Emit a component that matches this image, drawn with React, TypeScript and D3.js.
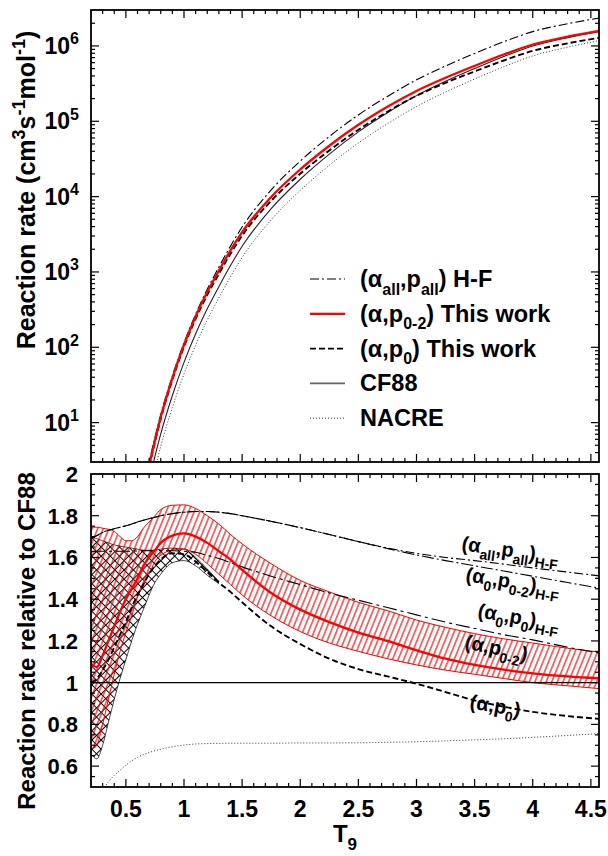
import React from 'react';
import * as d3 from 'd3';

// ---------- data ----------
const T9 = [0.2, 0.25, 0.3, 0.35, 0.4, 0.45, 0.5, 0.55, 0.6, 0.65, 0.7, 0.75, 0.8, 0.9, 1.0, 1.1, 1.2, 1.3, 1.4, 1.5, 1.75, 2.0, 2.25, 2.5, 2.75, 3.0, 3.25, 3.5, 3.75, 4.0, 4.3, 4.6];

// CF88 reaction rate (cm^3 s^-1 mol^-1)
const cf88Rate: (number | null)[] = [null, null, null, null, null, null, null, null, 0.28, 0.71, 1.66, 3.55, 7.1, 22.9, 63, 151, 324, 638, 1216, 2190, 6920, 17000, 36700, 72400, 130000, 219000, 339000, 501000, 724000, 1.0e6, 1.29e6, 1.58e6];

// ratios relative to CF88
const p02Ratio = [1.09, 1.075, 1.13, 1.2, 1.27, 1.34, 1.4, 1.45, 1.5, 1.56, 1.6, 1.635, 1.67, 1.705, 1.715, 1.7, 1.67, 1.63, 1.59, 1.54, 1.43, 1.35, 1.29, 1.24, 1.2, 1.155, 1.115, 1.085, 1.062, 1.045, 1.03, 1.02];
const p02Upper = [1.745, 1.745, 1.74, 1.735, 1.725, 1.7, 1.68, 1.68, 1.7, 1.74, 1.77, 1.8, 1.83, 1.85, 1.852, 1.835, 1.8, 1.76, 1.71, 1.665, 1.57, 1.49, 1.435, 1.385, 1.345, 1.3, 1.265, 1.235, 1.21, 1.19, 1.165, 1.145];
const p02Lower = [0.68, 0.7, 0.8, 0.92, 1.04, 1.15, 1.24, 1.32, 1.41, 1.47, 1.52, 1.58, 1.61, 1.635, 1.64, 1.615, 1.57, 1.52, 1.47, 1.42, 1.32, 1.245, 1.19, 1.15, 1.115, 1.085, 1.06, 1.04, 1.02, 1.0, 0.985, 0.97];

const p0Ratio = [1.0, 1.02, 1.06, 1.11, 1.17, 1.23, 1.29, 1.36, 1.42, 1.47, 1.52, 1.56, 1.59, 1.62, 1.615, 1.58, 1.53, 1.48, 1.435, 1.385, 1.27, 1.185, 1.115, 1.065, 1.03, 0.995, 0.955, 0.915, 0.885, 0.86, 0.84, 0.825];
const p0Upper: (number | null)[] = [1.7, 1.69, 1.68, 1.67, 1.66, 1.655, 1.65, 1.645, 1.64, 1.635, 1.635, 1.635, 1.64, 1.645, 1.64, 1.6, 1.545, 1.486, null, null, null, null, null, null, null, null, null, null, null, null, null, null];
const p0Lower: (number | null)[] = [0.66, 0.635, 0.7, 0.81, 0.92, 1.02, 1.11, 1.2, 1.28, 1.35, 1.42, 1.48, 1.52, 1.575, 1.585, 1.56, 1.515, 1.474, null, null, null, null, null, null, null, null, null, null, null, null, null, null];

const hfAllRatio = [1.69, 1.705, 1.72, 1.73, 1.738, 1.745, 1.752, 1.76, 1.77, 1.778, 1.786, 1.793, 1.8, 1.81, 1.817, 1.82, 1.82, 1.817, 1.81, 1.8, 1.773, 1.743, 1.71, 1.676, 1.645, 1.62, 1.6, 1.585, 1.568, 1.55, 1.53, 1.51];
const hf0p02Ratio = [1.69, 1.705, 1.72, 1.73, 1.738, 1.745, 1.752, 1.76, 1.77, 1.778, 1.786, 1.793, 1.8, 1.81, 1.817, 1.82, 1.82, 1.817, 1.81, 1.8, 1.773, 1.743, 1.71, 1.676, 1.643, 1.612, 1.585, 1.56, 1.535, 1.51, 1.48, 1.45];
const hf0p0Ratio = [1.628, 1.63, 1.63, 1.63, 1.63, 1.63, 1.63, 1.63, 1.631, 1.632, 1.632, 1.632, 1.632, 1.632, 1.63, 1.625, 1.61, 1.595, 1.575, 1.555, 1.51, 1.47, 1.43, 1.395, 1.36, 1.325, 1.29, 1.26, 1.23, 1.205, 1.17, 1.14];
const nacreRatio: (number | null)[] = [null, null, 0.485, 0.525, 0.555, 0.58, 0.605, 0.625, 0.642, 0.655, 0.665, 0.674, 0.681, 0.693, 0.701, 0.706, 0.708, 0.709, 0.71, 0.71, 0.71, 0.711, 0.711, 0.712, 0.714, 0.717, 0.721, 0.726, 0.731, 0.738, 0.747, 0.757];
const cf88Ratio = T9.map(() => 1);

const xTickLabels = ['0.5', '1', '1.5', '2', '2.5', '3', '3.5', '4', '4.5'];
const yTopDecades = [1, 2, 3, 4, 5, 6];
const yBotLabels = ['0.6', '0.8', '1', '1.2', '1.4', '1.6', '1.8', '2'];

// ---------- helpers ----------
type Seg = { t: string; sub?: boolean; sup?: boolean };

function Rich({ segs, size, small, ...rest }: any) {
  let prev = 0;
  return (
    <text {...rest} fontSize={size}>
      {(segs as Seg[]).map((s, i) => {
        const off = s.sub ? size * 0.32 : s.sup ? -size * 0.42 : 0;
        const dy = off - prev;
        prev = off;
        return (
          <tspan key={i} dy={dy} fontSize={s.sub || s.sup ? small : size}>
            {s.t}
          </tspan>
        );
      })}
    </text>
  );
}

const FONT = "'Liberation Sans', Arial, Helvetica, sans-serif";

export default function App() {
  const W = 608, H = 856;
  const L = 91, R = 599;
  const topT = 10, topB = 462, botT = 474, botB = 787;

  const x = d3.scaleLinear().domain([0.2, 4.57]).range([L, R]);
  const yTop = d3.scaleLog().domain([3, 3e6]).range([topB, topT]);
  const yBot = d3.scaleLinear().domain([0.5, 2]).range([botB, botT]);

  type P = [number, number | null];
  const lineTop = d3.line<P>()
    .defined((d) => d[1] != null && (d[1] as number) > 0)
    .x((d) => x(d[0]))
    .y((d) => yTop(d[1] as number))
    .curve(d3.curveMonotoneX);
  const lineBot = d3.line<P>()
    .defined((d) => d[1] != null)
    .x((d) => x(d[0]))
    .y((d) => yBot(d[1] as number))
    .curve(d3.curveMonotoneX);
  type B = [number, number | null, number | null];
  const areaBot = d3.area<B>()
    .defined((d) => d[1] != null && d[2] != null)
    .x((d) => x(d[0]))
    .y0((d) => yBot(d[1] as number))
    .y1((d) => yBot(d[2] as number))
    .curve(d3.curveMonotoneX);

  const ratioPts = (r: (number | null)[]): P[] => T9.map((t, i) => [t, r[i]]);
  const ratePts = (r: (number | null)[]): P[] =>
    T9.map((t, i) => [t, cf88Rate[i] == null || r[i] == null ? null : (cf88Rate[i] as number) * (r[i] as number)]);
  const band = (lo: (number | null)[], hi: (number | null)[]): B[] => T9.map((t, i) => [t, lo[i], hi[i]]);

  const styles = {
    hfAll: { stroke: '#000', strokeWidth: 1.1, strokeDasharray: '9,3,2,3' },
    hf0p02: { stroke: '#000', strokeWidth: 1.1, strokeDasharray: '12,3,2,3' },
    hf0p0: { stroke: '#000', strokeWidth: 1.1, strokeDasharray: '14,4,3,4' },
    red: { stroke: '#ff0000', strokeWidth: 2.3 },
    p0: { stroke: '#000', strokeWidth: 1.9, strokeDasharray: '6,3' },
    cf88: { stroke: '#222', strokeWidth: 1.1 },
    nacre: { stroke: '#333', strokeWidth: 1, strokeDasharray: '1,2' },
  };

  // ticks
  const xMinor = d3.range(3, 46).map((i) => i / 10);
  const topMinor: { v: number; major: boolean }[] = [];
  for (let d = 0; d <= 6; d++) {
    for (let k = 1; k <= 9; k++) {
      const v = k * Math.pow(10, d);
      if (v > 3 && v < 3e6) topMinor.push({ v, major: k === 1 });
    }
  }
  const botTicks = d3.range(11, 40).map((i) => ({ v: i * 0.05, major: i % 4 === 0 }));

  const tickLines: JSX.Element[] = [];
  xMinor.forEach((t, i) => {
    const major = Math.round(t * 10) % 5 === 0;
    const len = major ? 8 : 4;
    const xx = x(t);
    [[topT, 1], [topB, -1], [botT, 1], [botB, -1]].forEach(([y0, s], j) => {
      tickLines.push(<line key={`xt${i}-${j}`} x1={xx} x2={xx} y1={y0} y2={y0 + s * len} stroke="#000" strokeWidth={1.2} />);
    });
  });
  topMinor.forEach((tk, i) => {
    const yy = yTop(tk.v);
    const len = tk.major ? 8 : 4;
    tickLines.push(<line key={`yt${i}a`} x1={L} x2={L + len} y1={yy} y2={yy} stroke="#000" strokeWidth={1.2} />);
    tickLines.push(<line key={`yt${i}b`} x1={R} x2={R - len} y1={yy} y2={yy} stroke="#000" strokeWidth={1.2} />);
  });
  botTicks.forEach((tk, i) => {
    const yy = yBot(tk.v);
    const len = tk.major ? 8 : 4;
    tickLines.push(<line key={`yb${i}a`} x1={L} x2={L + len} y1={yy} y2={yy} stroke="#000" strokeWidth={1.2} />);
    tickLines.push(<line key={`yb${i}b`} x1={R} x2={R - len} y1={yy} y2={yy} stroke="#000" strokeWidth={1.2} />);
  });

  const legend = [
    { segs: [{ t: '(α' }, { t: 'all', sub: true }, { t: ',p' }, { t: 'all', sub: true }, { t: ') H-F' }], st: styles.hfAll },
    { segs: [{ t: '(α,p' }, { t: '0-2', sub: true }, { t: ') This work' }], st: styles.red },
    { segs: [{ t: '(α,p' }, { t: '0', sub: true }, { t: ') This work' }], st: styles.p0 },
    { segs: [{ t: 'CF88' }], st: { ...styles.cf88, stroke: '#666', strokeWidth: 1.6 } },
    { segs: [{ t: 'NACRE' }], st: styles.nacre },
  ];

  const annots = [
    { segs: [{ t: '(α' }, { t: 'all', sub: true }, { t: ',p' }, { t: 'all', sub: true }, { t: ')' }, { t: 'H-F', sub: true }], x: 461, y: 550, a: 8 },
    { segs: [{ t: '(α' }, { t: '0', sub: true }, { t: ',p' }, { t: '0-2', sub: true }, { t: ')' }, { t: 'H-F', sub: true }], x: 465, y: 581, a: 9 },
    { segs: [{ t: '(α' }, { t: '0', sub: true }, { t: ',p' }, { t: '0', sub: true }, { t: ')' }, { t: 'H-F', sub: true }], x: 477, y: 617, a: 10 },
    { segs: [{ t: '(α,p' }, { t: '0-2', sub: true }, { t: ')' }], x: 464, y: 648, a: 12 },
    { segs: [{ t: '(α,p' }, { t: '0', sub: true }, { t: ')' }], x: 469, y: 708, a: 10 },
  ];

  return (
    <svg width={W} height={H} style={{ position: 'absolute', left: 0, top: 0, background: '#fff' }} fontFamily={FONT} fontWeight="bold">
      <defs>
        <clipPath id="clipTop"><rect x={L} y={topT} width={R - L} height={topB - topT} /></clipPath>
        <clipPath id="clipBot"><rect x={L} y={botT} width={R - L} height={botB - botT} /></clipPath>
        <pattern id="hatchRed" patternUnits="userSpaceOnUse" width={5.2} height={20} patternTransform="rotate(22)">
          <line x1={2.6} y1={-2} x2={2.6} y2={22} stroke="#ff0000" strokeWidth={1.1} />
        </pattern>
        <pattern id="hatchBlack" patternUnits="userSpaceOnUse" width={6.5} height={6.5} patternTransform="rotate(45)">
          <path d="M3.25,-1V7.5M-1,3.25H7.5" stroke="#000" strokeWidth={1.05} />
        </pattern>
      </defs>

      {/* ---------- top panel ---------- */}
      <g clipPath="url(#clipTop)" fill="none">
        <path d={lineTop(ratePts(nacreRatio)) || ''} {...styles.nacre} />
        <path d={lineTop(ratePts(cf88Ratio)) || ''} {...styles.cf88} />
        <path d={lineTop(ratePts(hfAllRatio)) || ''} {...styles.hfAll} />
        <path d={lineTop(ratePts(p0Ratio)) || ''} {...styles.p0} />
        <path d={lineTop(ratePts(p02Ratio)) || ''} {...styles.red} />
      </g>

      {/* legend */}
      {legend.map((e, i) => {
        const yy = 279 + i * 34.8;
        return (
          <g key={`lg${i}`}>
            <line x1={310} x2={345} y1={yy} y2={yy} {...e.st} />
            <Rich segs={e.segs} size={23.5} small={16} x={360} y={yy + 8} fill="#000" />
          </g>
        );
      })}

      {/* ---------- bottom panel ---------- */}
      <g clipPath="url(#clipBot)">
        <path d={areaBot(band(p0Lower, p0Upper)) || ''} fill="url(#hatchBlack)" stroke="none" />
        <path d={lineBot(ratioPts(p0Upper)) || ''} fill="none" stroke="#000" strokeWidth={0.7} />
        <path d={lineBot(ratioPts(p0Lower)) || ''} fill="none" stroke="#000" strokeWidth={0.7} />
        <path d={areaBot(band(p02Lower, p02Upper)) || ''} fill="url(#hatchRed)" stroke="none" />
        <path d={lineBot(ratioPts(p02Upper)) || ''} fill="none" stroke="#ff0000" strokeWidth={1} />
        <path d={lineBot(ratioPts(p02Lower)) || ''} fill="none" stroke="#ff0000" strokeWidth={1} />
        <g fill="none">
          <path d={lineBot(ratioPts(nacreRatio)) || ''} {...styles.nacre} />
          <path d={lineBot(ratioPts(cf88Ratio)) || ''} {...styles.cf88} strokeWidth={1.3} stroke="#000" />
          <path d={lineBot(ratioPts(hf0p0Ratio)) || ''} {...styles.hf0p0} />
          <path d={lineBot(ratioPts(hf0p02Ratio)) || ''} {...styles.hf0p02} />
          <path d={lineBot(ratioPts(hfAllRatio)) || ''} {...styles.hfAll} />
          <path d={lineBot(ratioPts(p0Ratio)) || ''} {...styles.p0} />
          <path d={lineBot(ratioPts(p02Ratio)) || ''} {...styles.red} />
        </g>
      </g>

      {annots.map((a, i) => (
        <Rich key={`an${i}`} segs={a.segs} size={20} small={14} transform={`translate(${a.x},${a.y}) rotate(${a.a})`} fill="#000" />
      ))}

      {/* ticks and frames */}
      {tickLines}
      <rect x={L} y={topT} width={R - L} height={topB - topT} fill="none" stroke="#000" strokeWidth={1.8} />
      <rect x={L} y={botT} width={R - L} height={botB - botT} fill="none" stroke="#000" strokeWidth={1.8} />

      {/* tick labels */}
      {yTopDecades.map((d) => (
        <Rich key={`ytl${d}`} segs={[{ t: '10' }, { t: String(d), sup: true }]} size={23} small={16} x={79} y={yTop(Math.pow(10, d)) + 8} textAnchor="end" fill="#000" />
      ))}
      {yBotLabels.map((s) => (
        <text key={`ybl${s}`} x={78} y={yBot(+s) + 8} fontSize={22} textAnchor="end" fill="#000">{s}</text>
      ))}
      {xTickLabels.map((s) => (
        <text key={`xtl${s}`} x={x(+s)} y={817} fontSize={23} textAnchor="middle" fill="#000">{s}</text>
      ))}

      {/* axis titles */}
      <Rich segs={[{ t: 'Reaction rate (cm' }, { t: '3', sup: true }, { t: 's' }, { t: '-1', sup: true }, { t: 'mol' }, { t: '-1', sup: true }, { t: ')' }]}
        size={25} small={18} transform="translate(35,190) rotate(-90)" textAnchor="middle" fill="#000" />
      <text transform="translate(35,641) rotate(-90)" fontSize={24} textAnchor="middle" fill="#000">Reaction rate relative to CF88</text>
      <Rich segs={[{ t: 'T' }, { t: '9', sub: true }]} size={24} small={17} x={345} y={842} textAnchor="middle" fill="#000" />
    </svg>
  );
}
